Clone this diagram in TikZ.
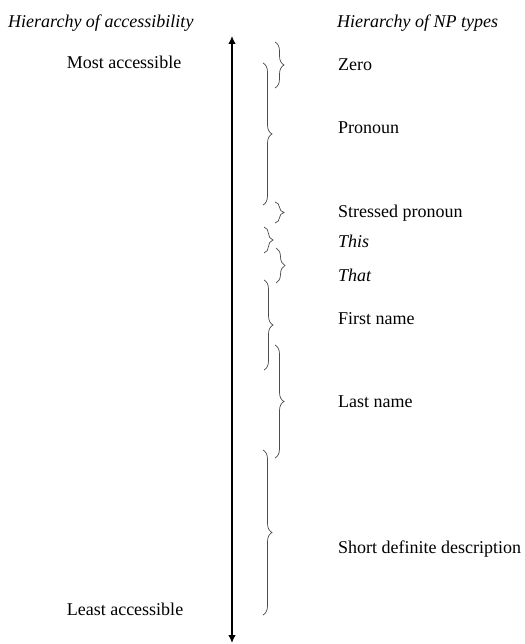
\documentclass[tikz,border=0pt]{standalone}
\usepackage{fontspec}
\setmainfont{Liberation Serif}
\usetikzlibrary{arrows.meta,decorations.pathreplacing}

\begin{document}
\begin{tikzpicture}[x=1pt,y=-1pt,
    every node/.style={inner sep=0pt, font=\fontsize{18}{21}\selectfont},
    head/.style={anchor=base west, font=\fontsize{18}{21}\selectfont\itshape},
    item/.style={anchor=base west},
    pole/.style={anchor=base},
    bracket/.style={draw=black!70, line width=0.7pt, decorate,
                    decoration={brace, amplitude=9pt}}]
    \useasboundingbox (0,0) rectangle (524,644);

    % headings
    \node[head] (hacc) at (8,28) {Hierarchy of accessibility};
    \node[head] (hnp) at (337,28) {Hierarchy of NP types};

    % the scale
    \coordinate (top) at (232,36);
    \coordinate (bottom) at (232,643);
    \draw[line width=1.3pt, {Latex[length=8pt,width=7.5pt]}-{Latex[length=8pt,width=7.5pt]}] (top) -- (bottom);
    \node[pole] (most) at (124,69) {Most accessible};
    \node[pole] (least) at (125,615) {Least accessible};

    % NP types
    \node[item] (zero) at (338,71) {Zero};
    \node[item] (pronoun) at (338,134) {Pronoun};
    \node[item] (stressed) at (338,217) {Stressed pronoun};
    \node[item] (this) at (338,247) {\itshape This};
    \node[item] (that) at (338,281) {\itshape That};
    \node[item] (first) at (338,324) {First name};
    \node[item] (last) at (338,407) {Last name};
    \node[item] (short) at (338,553) {Short definite description};

    % ranges on the scale
    \draw[bracket] (275,42) -- (275,88);
    \draw[bracket] (263,63) -- (263,205);
    \draw[bracket] (275,202) -- (275,223);
    \draw[bracket] (264,227) -- (264,253);
    \draw[bracket] (276,248) -- (276,283);
    \draw[bracket] (264,280) -- (264,370);
    \draw[bracket] (275,345) -- (275,458);
    \draw[bracket] (263,450) -- (263,615);
\end{tikzpicture}
\end{document}
